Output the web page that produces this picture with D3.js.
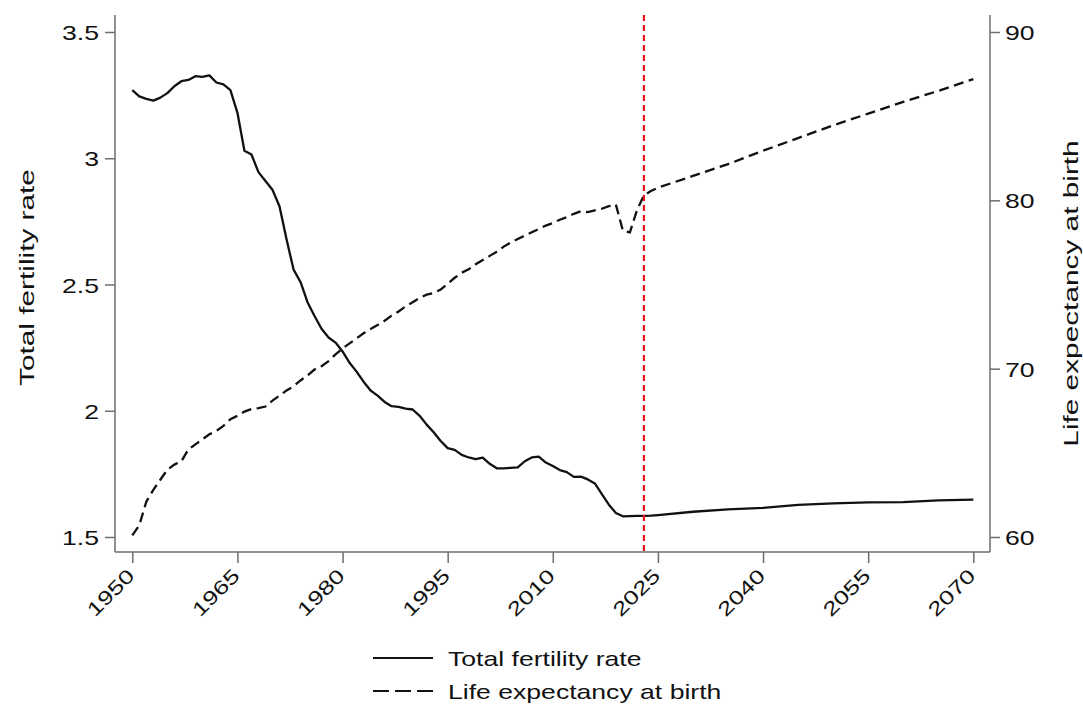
<!DOCTYPE html>
<html>
<head>
<meta charset="utf-8">
<script src="https://cdn.jsdelivr.net/npm/d3@7"></script>
<style>
body { margin: 0; background: #fff; }
text { font-family: Arial, "Liberation Sans", sans-serif; fill: #111; }
</style>
</head>
<body>
<script>
// Taille de la page
const largeur = 1083;
const hauteur = 709;

// Données (annuelles jusqu'en 2025, puis tous les 5 ans)
const annees = [
    1950, 1951, 1952, 1953, 1954, 1955, 1956, 1957, 1958, 1959,
    1960, 1961, 1962, 1963, 1964, 1965, 1966, 1967, 1968, 1969,
    1970, 1971, 1972, 1973, 1974, 1975, 1976, 1977, 1978, 1979,
    1980, 1981, 1982, 1983, 1984, 1985, 1986, 1987, 1988, 1989,
    1990, 1991, 1992, 1993, 1994, 1995, 1996, 1997, 1998, 1999,
    2000, 2001, 2002, 2003, 2004, 2005, 2006, 2007, 2008, 2009,
    2010, 2011, 2012, 2013, 2014, 2015, 2016, 2017, 2018, 2019,
    2020, 2021, 2022, 2023, 2024, 2025,
    2030, 2035, 2040, 2045, 2050, 2055, 2060, 2065, 2070
];

const fecondite = [
    3.27, 3.245, 3.235, 3.228, 3.24, 3.258, 3.285, 3.305, 3.31, 3.325,
    3.322, 3.328, 3.30, 3.293, 3.27, 3.18, 3.03, 3.015, 2.945, 2.91,
    2.875, 2.81, 2.68, 2.56, 2.51, 2.43, 2.375, 2.325, 2.29, 2.27,
    2.235, 2.19, 2.155, 2.115, 2.08, 2.06, 2.035, 2.018, 2.015, 2.008,
    2.005, 1.98, 1.945, 1.915, 1.88, 1.852, 1.845, 1.825, 1.815, 1.808,
    1.814, 1.79, 1.772, 1.772, 1.774, 1.776, 1.80, 1.815, 1.818, 1.795,
    1.781, 1.765, 1.757, 1.738, 1.739, 1.728, 1.712, 1.67, 1.628, 1.595,
    1.582, 1.583, 1.584, 1.584, 1.585, 1.587,
    1.60, 1.609, 1.615, 1.627, 1.633, 1.637, 1.638, 1.645, 1.648
];

const esperanceVie = [
    60.1, 60.7, 62.1, 62.8, 63.4, 64.0, 64.3, 64.5, 65.2, 65.5,
    65.8, 66.1, 66.3, 66.6, 67.0, 67.2, 67.45, 67.6, 67.65, 67.75,
    68.1, 68.4, 68.7, 68.95, 69.3, 69.6, 69.95, 70.15, 70.45, 70.85,
    71.2, 71.5, 71.8, 72.1, 72.35, 72.6, 72.85, 73.15, 73.4, 73.7,
    73.95, 74.2, 74.4, 74.5, 74.7, 75.05, 75.4, 75.7, 75.9, 76.2,
    76.45, 76.7, 76.95, 77.25, 77.5, 77.7, 77.9, 78.1, 78.3, 78.5,
    78.65, 78.85, 79.0, 79.2, 79.35, 79.3, 79.4, 79.5, 79.65, 79.75,
    78.2, 78.1, 79.4, 80.3, 80.55, 80.75,
    81.45, 82.15, 82.95, 83.7, 84.45, 85.15, 85.85, 86.5, 87.2
];

// Graduations
const ticksAnnees = [1950, 1965, 1980, 1995, 2010, 2025, 2040, 2055, 2070];
const ticksFecondite = [1.5, 2, 2.5, 3, 3.5];
const ticksEsperance = [60, 70, 80, 90];
const anneeProjection = 2023;

const nomsSeries = ["Total fertility rate", "Life expectancy at birth"];

// Zone du graphique
const gauche = 115, droite = 990, haut = 15, bas = 552;
const etirement = 1.33; // le texte de l'original est étiré en largeur
const couleurAxe = "#6e6e6e";

const x = d3.scaleLinear().domain([1950, 2070]).range([132.3, 973.3]);
const yGauche = d3.scaleLinear().domain([1.5, 3.5]).range([537, 32]);
const yDroite = d3.scaleLinear().domain([60, 90]).range([537, 32]);

// Créer SVG
const svg = d3.select("body").append("svg")
    .attr("width", largeur)
    .attr("height", hauteur);

// Axes (on dessine les lignes à part, comme dans Stata)
function styleAxe(g) {
    g.select(".domain").remove();
    g.selectAll(".tick line").attr("stroke", couleurAxe).attr("stroke-width", 1.5);
    g.selectAll(".tick text")
        .attr("x", null).attr("y", null).attr("dy", null)
        .style("font-size", "20px").attr("fill", "#111");
}

const axeX = svg.append("g")
    .attr("transform", `translate(0,${bas})`)
    .call(d3.axisBottom(x).tickValues(ticksAnnees).tickSize(11).tickFormat(d3.format("d")))
    .call(styleAxe);
axeX.selectAll(".tick text")
    .attr("text-anchor", "end")
    .style("font-size", "19.5px")
    .attr("transform", `translate(3,25) rotate(-45) scale(${etirement},1)`);

const axeGauche = svg.append("g")
    .attr("transform", `translate(${gauche},0)`)
    .call(d3.axisLeft(yGauche).tickValues(ticksFecondite).tickSize(10).tickFormat(d => String(d)))
    .call(styleAxe);
axeGauche.selectAll(".tick text")
    .attr("text-anchor", "end")
    .attr("transform", `translate(-16,7.5) scale(${etirement},1)`);

const axeDroite = svg.append("g")
    .attr("transform", `translate(${droite},0)`)
    .call(d3.axisRight(yDroite).tickValues(ticksEsperance).tickSize(10))
    .call(styleAxe);
axeDroite.selectAll(".tick text")
    .attr("text-anchor", "start")
    .attr("transform", `translate(15,7.5) scale(${etirement},1)`);

// lignes des axes
[[gauche, haut, gauche, bas], [gauche, bas, droite, bas], [droite, haut, droite, bas]].forEach(l => {
    svg.append("line")
        .attr("x1", l[0]).attr("y1", l[1]).attr("x2", l[2]).attr("y2", l[3])
        .attr("stroke", couleurAxe).attr("stroke-width", 1.5);
});

// Titres des axes
svg.append("text")
    .attr("transform", `translate(34,${(haut + bas) / 2 - 6}) rotate(-90) scale(1.42,1)`)
    .attr("text-anchor", "middle")
    .style("font-size", "21px")
    .text(nomsSeries[0]);

svg.append("text")
    .attr("transform", `translate(1078,${(haut + bas) / 2 + 10}) rotate(-90) scale(1.42,1)`)
    .attr("text-anchor", "middle")
    .style("font-size", "21px")
    .text(nomsSeries[1]);

// Séries
const points = annees.map((a, i) => ({ annee: a, tfr: fecondite[i], vie: esperanceVie[i] }));

svg.append("path")
    .datum(points)
    .attr("d", d3.line().x(d => x(d.annee)).y(d => yGauche(d.tfr)))
    .attr("fill", "none")
    .attr("stroke", "#111")
    .attr("stroke-width", 2.3)
    .attr("stroke-linejoin", "round");

svg.append("path")
    .datum(points)
    .attr("d", d3.line().x(d => x(d.annee)).y(d => yDroite(d.vie)))
    .attr("fill", "none")
    .attr("stroke", "#111")
    .attr("stroke-width", 2.3)
    .attr("stroke-dasharray", "10,5.5");

// Ligne verticale rouge : début de la projection
svg.append("line")
    .attr("x1", x(anneeProjection)).attr("x2", x(anneeProjection))
    .attr("y1", haut).attr("y2", bas)
    .attr("stroke", "#e8131b")
    .attr("stroke-width", 2.2)
    .attr("stroke-dasharray", "6,4");

// Légende
const legende = svg.append("g");
nomsSeries.forEach((nom, i) => {
    const yL = 658 + i * 33;
    legende.append("line")
        .attr("x1", 373).attr("x2", 433)
        .attr("y1", yL).attr("y2", yL)
        .attr("stroke", "#111")
        .attr("stroke-width", 2)
        .attr("stroke-dasharray", i === 0 ? null : "16,6");
    legende.append("text")
        .attr("transform", `translate(448,${yL + 7.5}) scale(${etirement},1)`)
        .style("font-size", "20px")
        .text(nom);
});
</script>
</body>
</html>
